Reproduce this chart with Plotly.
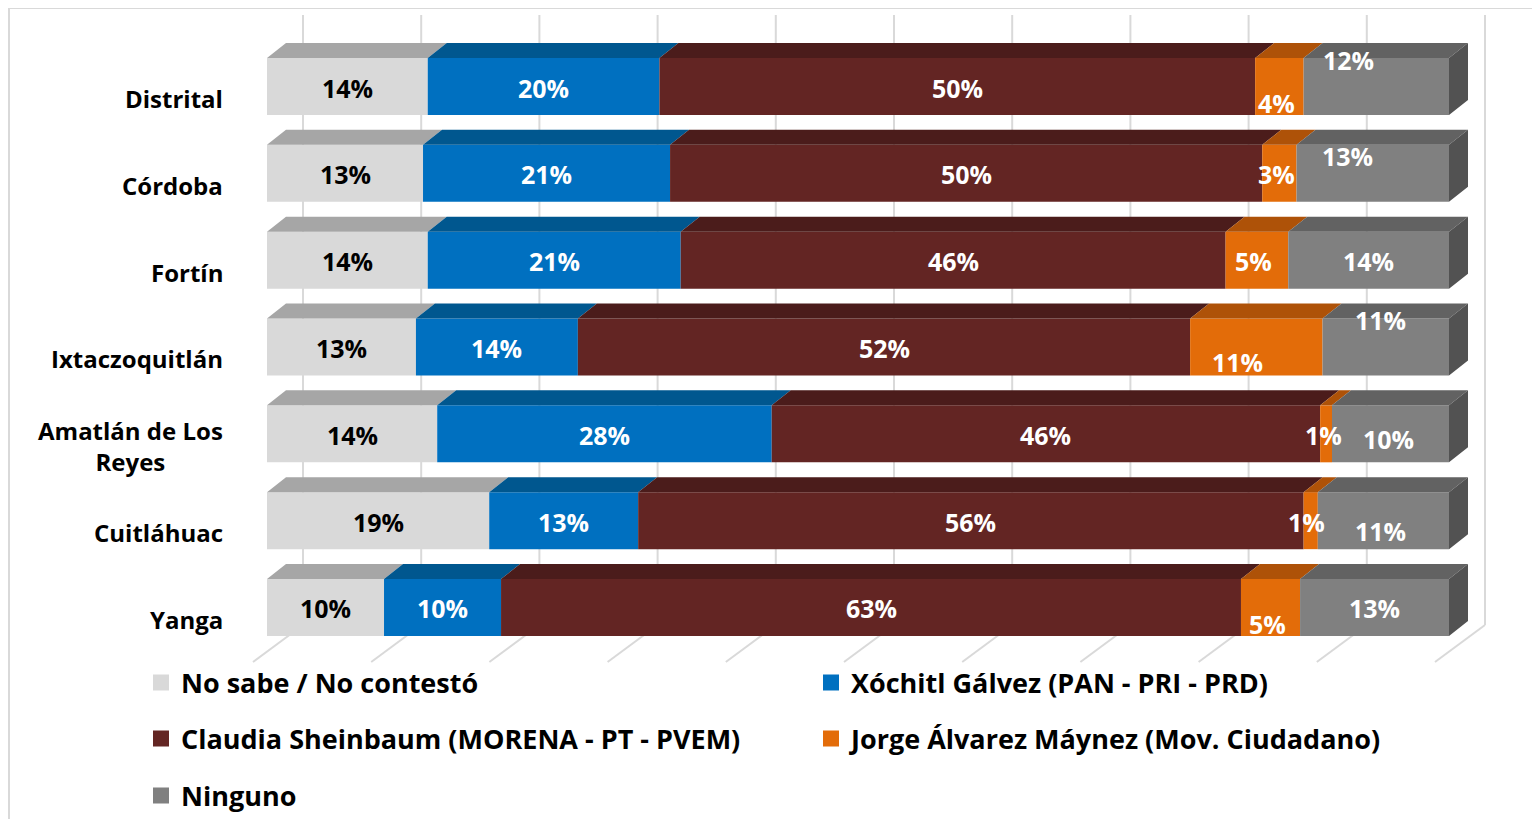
import plotly.graph_objects as go

# datos de la encuesta (porcentaje por municipio)
municipios = ["Distrital", "Córdoba", "Fortín", "Ixtaczoquitlán",
              "Amatlán de Los Reyes", "Cuitláhuac", "Yanga"]
etiquetas = ["Distrital", "Córdoba", "Fortín", "Ixtaczoquitlán",
             "Amatlán de Los<br>Reyes", "Cuitláhuac", "Yanga"]

no_sabe = [13.6, 13.2, 13.6, 12.6, 14.4, 18.8, 9.9]
xochitl = [19.6, 20.9, 21.4, 13.7, 28.3, 12.6, 9.9]
claudia = [50.4, 50.1, 46.1, 51.8, 46.4, 56.3, 62.6]
jorge = [4.1, 2.9, 5.3, 11.2, 1.0, 1.2, 5.0]
ninguno = [12.3, 12.9, 13.6, 10.7, 9.9, 11.1, 12.6]

ticks = [0, 10, 20, 30, 40, 50, 60, 70, 80, 90, 100]

series = [
    ("No sabe / No contestó", no_sabe, "#D9D9D9", "#A6A6A6", "black", "legend"),
    ("Xóchitl Gálvez (PAN - PRI - PRD)", xochitl, "#0070C0", "#00578F", "white", "legend"),
    ("Claudia Sheinbaum (MORENA - PT - PVEM)", claudia, "#632523", "#4B1C1B", "white", "legend2"),
    ("Jorge Álvarez Máynez (Mov. Ciudadano)", jorge, "#E36C09", "#AE5208", "white", "legend2"),
    ("Ninguno", ninguno, "#808080", "#626262", "white", "legend3"),
]

# ajustes finos de las etiquetas (px): (municipio, serie) -> (dx, dy hacia abajo)
nudges = {
    (0, 3): (-3, 16), (0, 4): (-28, -27),
    (1, 3): (-3, 1), (1, 4): (-25, -17),
    (2, 3): (-3, 1),
    (3, 3): (-19, 15), (3, 4): (-5, -27),
    (4, 3): (-3, 1), (4, 4): (-2, 5),
    (5, 3): (-4, 1), (5, 4): (-3, 10),
    (6, 3): (-3, 17),
}

# geometria (px de pantalla); la pagina desplaza la figura OFF px
W, H = 1540, 819
OFF = 8
L, R, T, B = 233, 44, 0, 149
X0, PPX = 267, 11.82      # px del 0% y px por punto porcentual
Y0, PPY = 86.5, 86.83     # px del centro de la primera barra y px por fila
FONT = "Open Sans"


def px2x(px):
    return (px - X0) / PPX


def px2y(py):
    return (py - Y0) / PPY


def paper_x(px):
    return (px - OFF - L) / (W - L - R)


def paper_y(py):
    return (H - B - (py - OFF)) / (H - T - B)


bar_w = 57 / PPY
dx, dy = 19 / PPX, 15 / PPY
pos = list(range(len(municipios)))

fig = go.Figure()

bases = [0.0] * len(municipios)
for k, (name, vals, front, top, txt, leg) in enumerate(series):
    fig.add_trace(go.Bar(
        y=pos, x=vals, base=list(bases), orientation="h", width=bar_w,
        marker=dict(color=front, line=dict(width=0)),
        showlegend=False, hoverinfo="skip",
    ))
    # cara superior (efecto 3D)
    xs, ys = [], []
    for i, v in enumerate(vals):
        x0, x1 = bases[i], bases[i] + v
        yt = i - bar_w / 2
        xs += [x0, x0 + dx, x1 + dx, x1, x0, None]
        ys += [yt, yt - dy, yt - dy, yt, yt, None]
    fig.add_trace(go.Scatter(
        x=xs, y=ys, fill="toself", fillcolor=top, mode="lines",
        line=dict(width=0, color=top), showlegend=False, hoverinfo="skip",
    ))
    # etiquetas
    for i, v in enumerate(vals):
        nx, ny = nudges.get((i, k), (0, 1))
        fig.add_annotation(
            x=bases[i] + v / 2, y=i, text=f"{v:.0f}%", showarrow=False,
            xshift=nx, yshift=-ny,
            font=dict(family=FONT, size=25, color=txt, weight="bold"),
        )
    bases = [b + v for b, v in zip(bases, vals)]
    # entrada de leyenda
    fig.add_trace(go.Scatter(
        x=[None], y=[None], mode="markers", name=name, legend=leg,
        marker=dict(symbol="square", size=16, color=front),
    ))

# cara lateral derecha
xs, ys = [], []
for i, b in enumerate(bases):
    yt, yb = i - bar_w / 2, i + bar_w / 2
    xs += [b, b + dx, b + dx, b, b, None]
    ys += [yt, yt - dy, yb - dy, yb, yt, None]
fig.add_trace(go.Scatter(
    x=xs, y=ys, fill="toself", fillcolor="#525252", mode="lines",
    line=dict(width=0, color="#525252"), showlegend=False, hoverinfo="skip",
))

# rejilla del fondo y del piso
back_dx, front_dx = px2x(X0 + 36), px2x(X0 - 14)
y_top, y_back, y_front = px2y(15), px2y(625), px2y(662)
for t in ticks:
    fig.add_shape(type="line", x0=t + back_dx, x1=t + back_dx, y0=y_top, y1=y_back,
                  line=dict(color="#D9D9D9", width=2), layer="below")
    fig.add_shape(type="line", x0=t + back_dx, x1=t + front_dx, y0=y_back, y1=y_front,
                  line=dict(color="#D9D9D9", width=2), layer="below")

# marco del grafico
fig.add_shape(type="rect", xref="paper", yref="paper",
              x0=paper_x(9), x1=paper_x(1600), y0=paper_y(8), y1=paper_y(900),
              line=dict(color="#D9D9D9", width=2), layer="below")

# nombres de municipios
for i, lab in enumerate(etiquetas):
    fig.add_annotation(
        x=paper_x(225), xref="paper", y=i + 12 / PPY, text=lab, showarrow=False,
        xanchor="right", align="center",
        font=dict(family=FONT, size=24, color="black", weight="bold"),
    )

legend_style = dict(
    orientation="h", xanchor="left", yanchor="middle", x=paper_x(141),
    entrywidth=625, entrywidthmode="pixels", bgcolor="rgba(0,0,0,0)",
    font=dict(family=FONT, size=27, color="black", weight="bold"),
)

fig.update_layout(
    width=W, height=H,
    margin=dict(l=L, r=R, t=T, b=B),
    paper_bgcolor="white", plot_bgcolor="white",
    barmode="overlay",
    xaxis=dict(range=[px2x(L + OFF), px2x(W - R + OFF)], visible=False),
    yaxis=dict(range=[px2y(H - B + OFF), px2y(T + OFF)], visible=False),
    legend=dict(legend_style, y=paper_y(683)),
    legend2=dict(legend_style, y=paper_y(739)),
    legend3=dict(legend_style, y=paper_y(796)),
)

fig.write_html("out.html")
